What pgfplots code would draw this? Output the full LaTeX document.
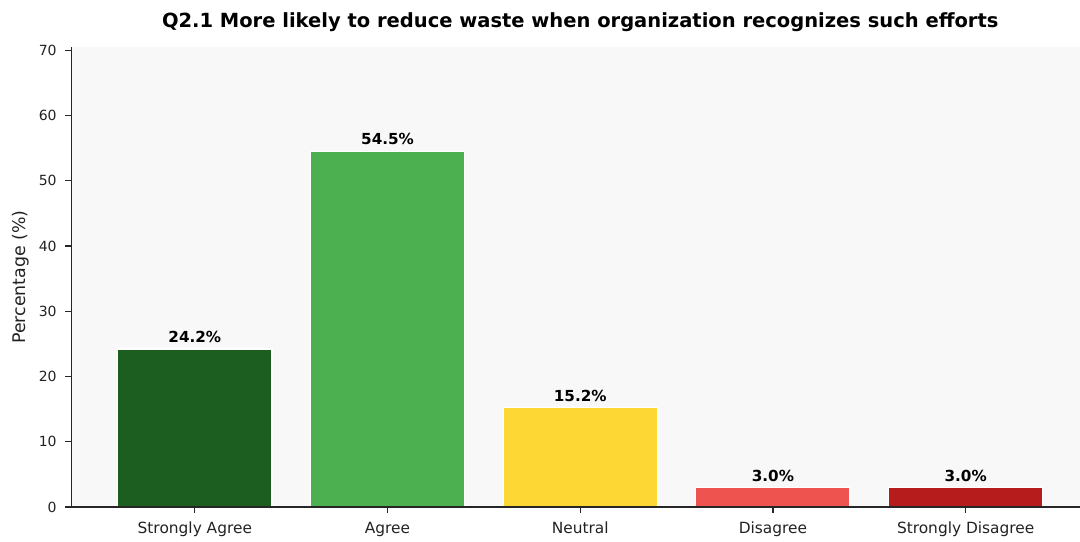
\documentclass[border=0pt]{standalone}
\usepackage{pgfplots}
\pgfplotsset{compat=1.18}
\usepackage{fontspec}
\setmainfont{DejaVu Sans}
\definecolor{bgc}{HTML}{F8F8F8}
\definecolor{cSA}{HTML}{1B5E20}
\definecolor{cA}{HTML}{4CAF50}
\definecolor{cN}{HTML}{FDD835}
\definecolor{cD}{HTML}{EF5350}
\definecolor{cSD}{HTML}{B71C1C}
\definecolor{txt}{HTML}{222222}
\begin{document}
\begin{tikzpicture}
\begin{axis}[
  name=ax,
  scale only axis,
  width=508.75pt, height=230pt,
  xmin=-0.64, xmax=4.64,
  ymin=0, ymax=70.5,
  ytick={0,10,...,70},
  xtick={0,1,2,3,4},
  xticklabels={Strongly Agree,Agree,Neutral,Disagree,Strongly Disagree},
  axis lines*=left,
  axis on top,
  axis line style={line width=0.65pt, color=black!85},
  tick style={line width=0.6pt, color=black!85},
  tick align=outside,
  major tick length=3pt,
  axis background/.style={fill=bgc},
  /pgf/number format/assume math mode=true,
  ticklabel style={text=txt, inner sep=0pt},
  xticklabel style={font=\fontsize{7.7pt}{9pt}\selectfont, anchor=base, yshift=-10pt},
  yticklabel style={font=\fontsize{7pt}{9pt}\selectfont, anchor=east, xshift=-4.25pt},
  ybar, bar width=0.8, bar shift=0pt,
  nodes near coords={\pgfmathprintnumber[fixed,fixed zerofill,precision=1]{\pgfplotspointmeta}\%},
  nodes near coords style={font=\bfseries\fontsize{7.6pt}{9pt}\selectfont, anchor=base, inner sep=0pt, yshift=3.2pt, text=black},
  clip=false,
]
\addplot[fill=cSA, draw=white, line width=0.6pt] coordinates {(0,24.2)};
\addplot[fill=cA, draw=white, line width=0.6pt] coordinates {(1,54.5)};
\addplot[fill=cN, draw=white, line width=0.6pt] coordinates {(2,15.2)};
\addplot[fill=cD, draw=white, line width=0.6pt] coordinates {(3,3.0)};
\addplot[fill=cSD, draw=white, line width=0.6pt] coordinates {(4,3.0)};
\node[yshift=9.75pt, anchor=base, font=\bfseries\fontsize{9.75pt}{11pt}\selectfont, inner sep=0pt] at (rel axis cs:0.5,1) {Q2.1 More likely to reduce waste when organization recognizes such efforts};
\node[xshift=-25.5pt, rotate=90, anchor=center, font=\fontsize{8.7pt}{10pt}\selectfont, inner sep=0pt, text=txt] at (rel axis cs:0,0.5) {Percentage (\%)};
\end{axis}
\pgfresetboundingbox
\path[use as bounding box] ([xshift=-35.75pt,yshift=-17pt]ax.south west) rectangle ([xshift=504.25pt,yshift=253.5pt]ax.south west);
\end{tikzpicture}
\end{document}
